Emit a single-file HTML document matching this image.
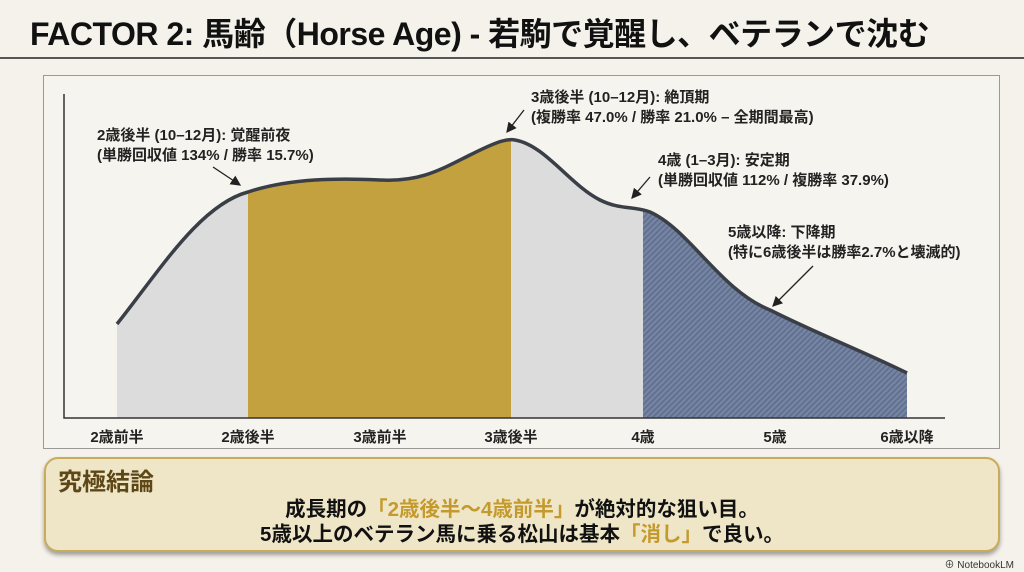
<!DOCTYPE html>
<html><head><meta charset="utf-8"><style>
body{margin:0;width:1024px;height:572px;background:#f4f2ea;font-family:"Liberation Sans","Noto Sans CJK JP",sans-serif;overflow:hidden;position:relative}
.t{position:absolute;left:30px;top:9px;font-size:32px;font-weight:bold;color:#111;white-space:nowrap;letter-spacing:-0.5px}
.hr{position:absolute;left:0;top:57px;width:1024px;height:2px;background:#555}
.box{position:absolute;left:43px;top:75px;width:957px;height:374px;border:1px solid #999;background:#f6f4ee;box-sizing:border-box}
.concl{position:absolute;left:44px;top:457px;width:956px;height:95px;border:2px solid #c9ab5c;border-radius:14px;background:#efe6c8;box-sizing:border-box;box-shadow:0 3px 4px rgba(0,0,0,.35)}
.ch{position:absolute;left:12px;top:3px;font-size:24px;font-weight:bold;color:#5e4717}
.cl{position:absolute;left:0;width:100%;text-align:center;font-size:20.5px;font-weight:bold;color:#111}
.g{color:#c49a2c}
.nl{position:absolute;right:10px;top:556px;font-size:10px;color:#333}
</style></head><body>
<div class="t">FACTOR 2: 馬齢（Horse Age) - 若駒で覚醒し、ベテランで沈む</div>
<div class="hr"></div>
<div class="box"></div>
<svg style="position:absolute;left:0;top:0" width="1024" height="572">
<defs>
<pattern id="h" width="4" height="4" patternUnits="userSpaceOnUse" patternTransform="rotate(45)"><rect width="4" height="4" fill="#7584a3"/><rect width="1.5" height="4" fill="#5f6d8c"/></pattern>
<clipPath id="c"><path d="M117,324 C160,270 200,205 248,192 C290,178 340,178 380,180 C420,182 440,170 470,155 C490,145 505,138 515,140 C545,145 570,185 600,200 C620,210 635,206 650,212 C690,230 720,290 770,310 C820,335 860,350 907,373 L907,418 L117,418 Z"/></clipPath>
<marker id="a" markerWidth="8" markerHeight="8" refX="7" refY="4" orient="auto"><path d="M0,0 L8,4 L0,8 Z" fill="#222"/></marker>
</defs>
<g clip-path="url(#c)">
<rect x="117" y="100" width="131" height="318" fill="#dcdcdc"/>
<rect x="248" y="100" width="263" height="318" fill="#c3a13f"/>
<rect x="511" y="100" width="132" height="318" fill="#dcdcdc"/>
<rect x="643" y="100" width="264" height="318" fill="url(#h)"/>
</g>
<path d="M117,324 C160,270 200,205 248,192 C290,178 340,178 380,180 C420,182 440,170 470,155 C490,145 505,138 515,140 C545,145 570,185 600,200 C620,210 635,206 650,212 C690,230 720,290 770,310 C820,335 860,350 907,373" fill="none" stroke="#3a3f47" stroke-width="3.5"/>
<path d="M64,94 L64,418 L945,418" fill="none" stroke="#333" stroke-width="1.5"/>
<g font-size="15" font-weight="bold" fill="#222" text-anchor="middle">
<text x="117" y="442">2歳前半</text><text x="248" y="442">2歳後半</text><text x="380" y="442">3歳前半</text><text x="511" y="442">3歳後半</text><text x="643" y="442">4歳</text><text x="775" y="442">5歳</text><text x="907" y="442">6歳以降</text>
</g>
<g font-size="15" font-weight="bold" fill="#222">
<text x="97" y="140">2歳後半 (10–12月): 覚醒前夜</text><text x="97" y="160">(単勝回収値 134% / 勝率 15.7%)</text>
<text x="531" y="102">3歳後半 (10–12月): 絶頂期</text><text x="531" y="122">(複勝率 47.0% / 勝率 21.0% – 全期間最高)</text>
<text x="658" y="165">4歳 (1–3月): 安定期</text><text x="658" y="185">(単勝回収値 112% / 複勝率 37.9%)</text>
<text x="728" y="237">5歳以降: 下降期</text><text x="728" y="257">(特に6歳後半は勝率2.7%と壊滅的)</text>
</g>
<g stroke="#222" stroke-width="1.3" marker-end="url(#a)">
<line x1="213" y1="167" x2="240" y2="185"/>
<line x1="524" y1="110" x2="507" y2="132"/>
<line x1="650" y1="177" x2="632" y2="198"/>
<line x1="813" y1="266" x2="773" y2="306"/>
</g>
</svg>
<div class="concl">
<div class="ch">究極結論</div>
<div class="cl" style="top:33px">成長期の<span class="g">「2歳後半〜4歳前半」</span>が絶対的な狙い目。</div>
<div class="cl" style="top:58px">5歳以上のベテラン馬に乗る松山は基本<span class="g">「消し」</span>で良い。</div>
</div>
<div class="nl">⊕ NotebookLM</div>
</body></html>
